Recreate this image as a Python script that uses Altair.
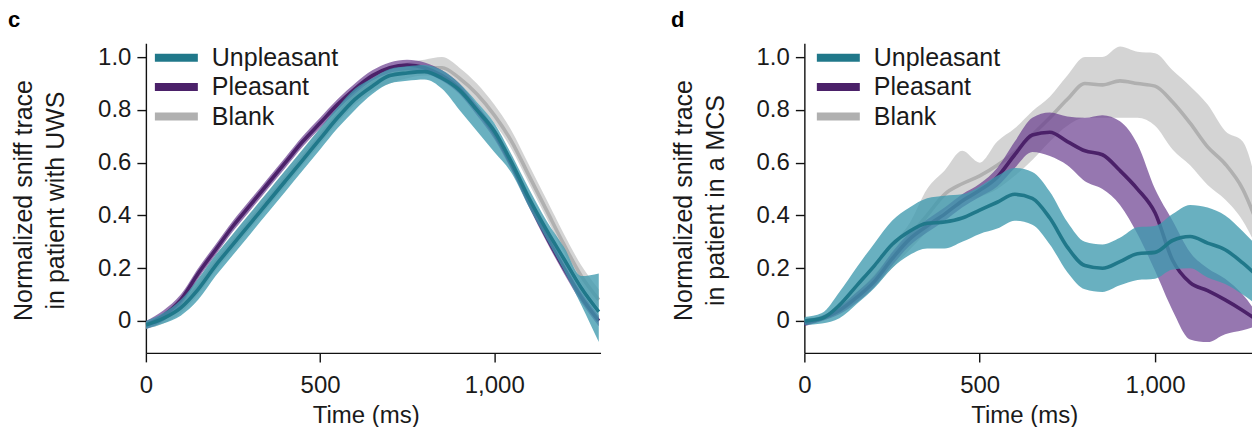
import altair as alt
import pandas as pd

# ---------------- data ----------------
time_ms = [0, 50, 100, 150, 200, 250, 300, 350, 400, 450, 500, 550, 600, 650,
           700, 750, 800, 850, 900, 950, 1000, 1050, 1100, 1150, 1200, 1250, 1300]

series_names = ["Unpleasant", "Pleasant", "Blank"]
line_colors = ["#20788a", "#4b2169", "#b0b0b0"]
band_colors = ["#3f9aae", "#6a3d8f", "#b8b8b8"]
band_opacity = [0.78, 0.7, 0.6]
panel_letters = ["c", "d"]
panel_ytitles = [["Normalized sniff trace", "in patient with UWS"],
                 ["Normalized sniff trace", "in patient in a MCS"]]
x_ticks = [0, 500, 1000]
y_ticks = [0, 0.2, 0.4, 0.6, 0.8, 1.0]

# panel c : patient with UWS
c_unp_mean = [-0.015, 0.01, 0.05, 0.12, 0.21, 0.29, 0.37, 0.45, 0.53, 0.61, 0.69, 0.77, 0.84, 0.89,
              0.93, 0.94, 0.945, 0.92, 0.875, 0.80, 0.72, 0.60, 0.465, 0.345, 0.235, 0.125, 0.035]
c_unp_lo = [-0.03, -0.01, 0.02, 0.08, 0.17, 0.25, 0.33, 0.41, 0.49, 0.57, 0.65, 0.73, 0.80, 0.86,
            0.90, 0.91, 0.915, 0.88, 0.80, 0.72, 0.64, 0.56, 0.43, 0.31, 0.19, 0.06, -0.08]
c_unp_hi = [0.0, 0.03, 0.08, 0.16, 0.25, 0.33, 0.41, 0.49, 0.57, 0.65, 0.73, 0.81, 0.88, 0.92,
            0.955, 0.965, 0.97, 0.95, 0.90, 0.83, 0.75, 0.63, 0.50, 0.38, 0.28, 0.17, 0.18]

c_ple_mean = [-0.015, 0.02, 0.08, 0.18, 0.27, 0.36, 0.44, 0.52, 0.60, 0.68, 0.75, 0.82, 0.88, 0.93,
              0.96, 0.97, 0.96, 0.93, 0.88, 0.80, 0.71, 0.59, 0.45, 0.32, 0.20, 0.09, 0.0]
c_ple_lo = [-0.03, 0.0, 0.06, 0.16, 0.25, 0.34, 0.42, 0.50, 0.58, 0.66, 0.73, 0.80, 0.86, 0.91,
            0.94, 0.95, 0.94, 0.91, 0.86, 0.78, 0.69, 0.57, 0.43, 0.30, 0.18, 0.07, -0.02]
c_ple_hi = [0.0, 0.04, 0.10, 0.20, 0.29, 0.38, 0.46, 0.54, 0.62, 0.70, 0.77, 0.84, 0.90, 0.95,
            0.98, 0.99, 0.98, 0.95, 0.90, 0.82, 0.73, 0.61, 0.47, 0.34, 0.22, 0.11, 0.02]

c_bla_mean = [-0.015, 0.01, 0.06, 0.13, 0.22, 0.30, 0.38, 0.46, 0.54, 0.62, 0.70, 0.78, 0.85, 0.90,
              0.93, 0.95, 0.96, 0.96, 0.92, 0.86, 0.78, 0.68, 0.55, 0.42, 0.29, 0.17, 0.08]
c_bla_lo = [-0.03, -0.01, 0.03, 0.10, 0.19, 0.27, 0.35, 0.43, 0.51, 0.59, 0.67, 0.75, 0.82, 0.87,
            0.90, 0.92, 0.93, 0.93, 0.89, 0.83, 0.75, 0.65, 0.52, 0.39, 0.26, 0.14, 0.05]
c_bla_hi = [0.0, 0.03, 0.09, 0.16, 0.25, 0.33, 0.41, 0.49, 0.57, 0.65, 0.73, 0.81, 0.88, 0.93,
            0.96, 0.98, 0.99, 1.0, 0.96, 0.90, 0.82, 0.72, 0.59, 0.46, 0.33, 0.21, 0.12]

# panel d : patient in a MCS
d_unp_mean = [0.0, 0.01, 0.06, 0.135, 0.21, 0.29, 0.34, 0.37, 0.375, 0.39, 0.42, 0.45, 0.48, 0.465,
              0.39, 0.28, 0.21, 0.20, 0.225, 0.255, 0.26, 0.305, 0.32, 0.295, 0.27, 0.22, 0.16]
d_unp_lo = [-0.015, -0.01, 0.01, 0.065, 0.125, 0.20, 0.25, 0.275, 0.275, 0.30, 0.33, 0.35, 0.38, 0.365,
            0.29, 0.185, 0.12, 0.11, 0.135, 0.155, 0.16, 0.195, 0.20, 0.165, 0.14, 0.10, 0.05]
d_unp_hi = [0.015, 0.03, 0.11, 0.205, 0.295, 0.38, 0.43, 0.465, 0.475, 0.48, 0.51, 0.55, 0.58, 0.565,
            0.49, 0.375, 0.30, 0.29, 0.315, 0.355, 0.36, 0.405, 0.44, 0.43, 0.40, 0.34, 0.27]

d_ple_mean = [-0.01, 0.01, 0.04, 0.09, 0.15, 0.235, 0.31, 0.36, 0.405, 0.455, 0.495, 0.545, 0.63, 0.705,
              0.715, 0.68, 0.645, 0.63, 0.57, 0.50, 0.41, 0.23, 0.145, 0.115, 0.08, 0.04, -0.005]
d_ple_lo = [-0.02, 0.0, 0.025, 0.07, 0.13, 0.21, 0.285, 0.335, 0.38, 0.43, 0.47, 0.51, 0.58, 0.64,
            0.625, 0.59, 0.53, 0.50, 0.44, 0.33, 0.19, 0.04, -0.07, -0.08, -0.05, -0.035, -0.015]
d_ple_hi = [0.0, 0.02, 0.055, 0.11, 0.17, 0.26, 0.335, 0.385, 0.43, 0.48, 0.52, 0.58, 0.68, 0.77,
            0.79, 0.775, 0.77, 0.78, 0.757, 0.67, 0.50, 0.38, 0.26, 0.20, 0.16, 0.10, 0.01]

d_bla_mean = [0.0, 0.01, 0.045, 0.10, 0.165, 0.245, 0.32, 0.40, 0.48, 0.52, 0.55, 0.59, 0.64, 0.705,
              0.77, 0.84, 0.90, 0.895, 0.91, 0.90, 0.89, 0.83, 0.75, 0.66, 0.595, 0.50, 0.34]
d_bla_lo = [-0.01, 0.0, 0.03, 0.075, 0.13, 0.20, 0.27, 0.34, 0.42, 0.455, 0.47, 0.50, 0.55, 0.61,
            0.68, 0.74, 0.77, 0.77, 0.77, 0.77, 0.74, 0.65, 0.59, 0.515, 0.46, 0.38, 0.25]
d_bla_hi = [0.01, 0.02, 0.06, 0.125, 0.20, 0.29, 0.37, 0.50, 0.57, 0.645, 0.60, 0.68, 0.73, 0.795,
            0.85, 0.93, 1.0, 1.0, 1.04, 1.02, 1.015, 0.95, 0.89, 0.82, 0.72, 0.68, 0.45]

# ---------------- build ----------------
FONT = "Liberation Sans"
TEXT_COLOR = "#1a1a1a"


def make_df(series):
    rows = []
    for name in series_names:
        m, lo, hi = series[name]
        for t, a, b, c in zip(time_ms, m, lo, hi):
            rows.append({"t": t, "series": name, "mean": a, "lo": b, "hi": c})
    return pd.DataFrame(rows)


df_c = make_df({"Unpleasant": (c_unp_mean, c_unp_lo, c_unp_hi),
                "Pleasant": (c_ple_mean, c_ple_lo, c_ple_hi),
                "Blank": (c_bla_mean, c_bla_lo, c_bla_hi)})
df_d = make_df({"Unpleasant": (d_unp_mean, d_unp_lo, d_unp_hi),
                "Pleasant": (d_ple_mean, d_ple_lo, d_ple_hi),
                "Blank": (d_bla_mean, d_bla_lo, d_bla_hi)})

color_scale = alt.Scale(domain=series_names, range=line_colors)


def panel(df, letter, ytitle, width, legend_x, title_x, letter_x):
    x_enc = alt.X(
        "t:Q",
        scale=alt.Scale(domain=[0, 1305], nice=False, zero=False),
        axis=alt.Axis(values=x_ticks, format=",d", title="Time (ms)",
                      titleX=220, titleY=70, titleBaseline="alphabetic", titleAlign="center",
                      titleFontSize=24, titleFont=FONT, titleFontWeight="normal", titleColor=TEXT_COLOR,
                      labelFontSize=24, labelFont=FONT, labelColor=TEXT_COLOR, labelPadding=12,
                      labelFlush=False, labelOverlap=False, tickSize=9, tickWidth=1.4,
                      tickColor="#111", domainColor="#111", domainWidth=1.4, grid=False),
    )
    y_scale = alt.Scale(domain=[-0.121, 1.053], nice=False, zero=False)
    y_axis = alt.Axis(values=y_ticks,
                      labelExpr="datum.value == 0 ? '0' : format(datum.value, '.1f')",
                      title=ytitle, titleX=title_x, titleY=157, titleAngle=270,
                      titleBaseline="top", titleAlign="center", titleLineHeight=32,
                      titleFontSize=25, titleFont=FONT, titleFontWeight="normal", titleColor=TEXT_COLOR,
                      labelFontSize=24, labelFont=FONT, labelColor=TEXT_COLOR, labelPadding=6,
                      tickSize=9, tickWidth=1.4, tickColor="#111", domainColor="#111",
                      domainWidth=1.4, grid=False)
    legend = alt.Legend(title=None, orient="none", legendX=legend_x, legendY=0,
                        symbolType="stroke", symbolSize=1849, symbolStrokeWidth=8,
                        clipHeight=29, rowPadding=0.5, labelFontSize=25, labelFont=FONT,
                        labelColor=TEXT_COLOR, labelOffset=10, padding=0, symbolOpacity=1)

    base = alt.Chart(df)
    layers = []
    for name in ["Blank", "Pleasant", "Unpleasant"]:
        i = series_names.index(name)
        sub = base.transform_filter(alt.datum.series == name)
        layers.append(
            sub.mark_area(color=band_colors[i], opacity=band_opacity[i],
                          interpolate="monotone", clip=True)
            .encode(x=x_enc, y=alt.Y("lo:Q", scale=y_scale, axis=y_axis), y2="hi:Q")
        )
        layers.append(
            sub.mark_line(strokeWidth=3.6, interpolate="monotone", clip=True)
            .encode(x=x_enc, y=alt.Y("mean:Q", scale=y_scale, axis=y_axis),
                    color=alt.Color("series:N", scale=color_scale, legend=legend))
        )
    label = alt.Chart(pd.DataFrame({"lab": [letter]})).mark_text(
        align="left", baseline="top", fontSize=22, fontWeight="bold", font=FONT, color="#000"
    ).encode(text="lab:N", x=alt.value(letter_x), y=alt.value(-33))
    layers.append(label)
    return alt.layer(*layers).properties(width=width, height=310)


p_c = panel(df_c, panel_letters[0], panel_ytitles[0], 455, 5, -134.5, -138)
p_d = panel(df_d, panel_letters[1], panel_ytitles[1], 458, 8.5, -133, -133.5)

chart = (
    alt.hconcat(p_c, p_d, spacing=70)
    .resolve_scale(color="independent", x="independent", y="independent")
    .resolve_legend(color="independent")
    .properties(padding={"left": 0, "top": 1, "right": -10, "bottom": -1}, background="white")
    .configure_view(stroke=None)
)

chart.save("out.html", embed_options={"renderer": "svg", "actions": False})
